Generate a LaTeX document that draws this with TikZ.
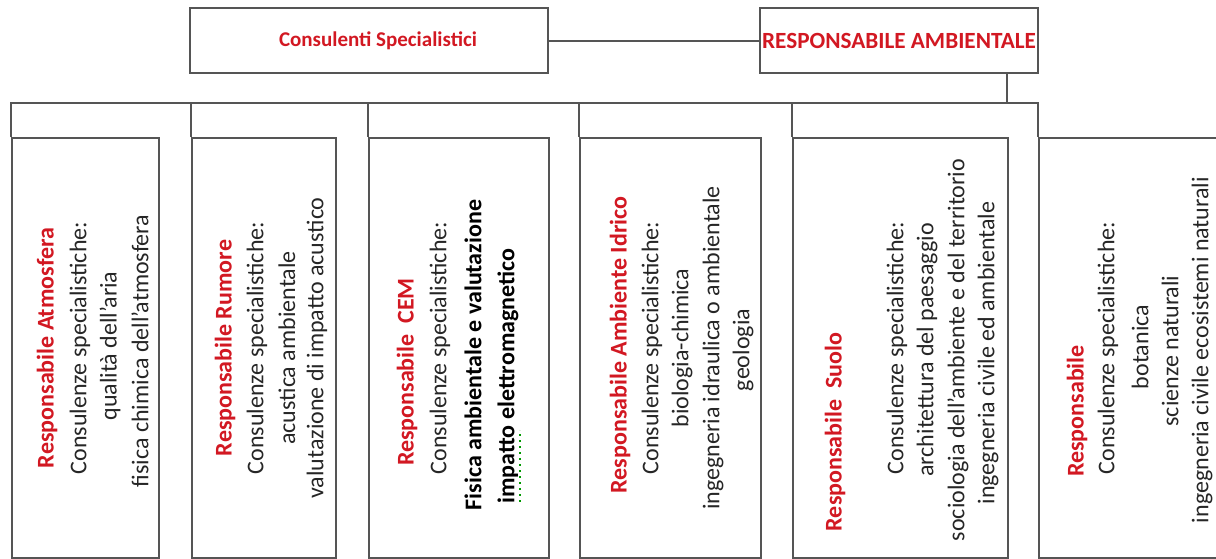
\documentclass[tikz,border=0pt]{standalone}
\usepackage{fontspec}
\setmainfont{Carlito}
\usetikzlibrary{calc,positioning}
\definecolor{chartred}{RGB}{210,24,34}
\definecolor{chartline}{RGB}{85,85,85}
\tikzset{
  link/.style = {draw=chartline, line width=1pt},
  topbox/.style = {link, rectangle, inner sep=0pt, minimum height=32.5pt,
    font=\fontsize{10.5}{12}\selectfont\bfseries, text=chartred},
  rolebox/.style = {link, rectangle, inner sep=0pt, anchor=north west},
  vtext/.style = {rotate=90, inner sep=0pt, font=\fontsize{12}{14}\selectfont, text=black!85},
  vbold/.style = {vtext, font=\fontsize{12}{14}\selectfont\bfseries, text=black},
  vtitle/.style = {vtext, font=\fontsize{12}{14}\selectfont\bfseries, text=chartred}
}

\begin{document}
\begin{tikzpicture}[x=0.5pt, y=-0.5pt]
  \useasboundingbox (0,0) rectangle (1216,558);
  \clip (0,0) rectangle (1216,558);
  % top level
  \node[topbox, minimum width=179pt] (cons) at (369,40.5) {\hspace*{9pt}Consulenti Specialistici};
  \node[topbox, minimum width=139pt, font=\fontsize{11.6}{13}\selectfont\bfseries] (resp) at (899,40.5) {RESPONSABILE AMBIENTALE};
  \draw[link] (cons) -- (resp);
  \coordinate (drop) at (1007,103);
  \draw[link] (resp.south -| drop) -- (drop);
  % role boxes
  \foreach \nm/\xl/\xr in {b1/11/158, b2/191/335, b3/368/548, b4/579/760, b5/792/1007, b6/1038/1260} {
    \pgfmathsetmacro{\bw}{(\xr-\xl)/2}
    \node[rolebox, minimum width=\bw pt, minimum height=210pt] (\nm) at (\xl,137) {};
  }
  % bus and drops
  \draw[link] (b1.north west) -- (b1.north west |- drop) -- (b6.north west |- drop) -- (b6.north west);
  \foreach \nm in {b2,b3,b4,b5}
    \draw[link] (\nm.north west |- drop) -- (\nm.north west);
  % texts
  \node[vtitle] (t1a) at (47,348) {Responsabile Atmosfera};
  \node[vtext] (t1b) at (80,348) {Consulenze specialistiche:};
  \node[vtext] (t1c) at (110,346) {qualità dell'aria};
  \node[vtext] (t1d) at (140,351) {fisica chimica dell'atmosfera};
  \node[vtitle] (t2a) at (225,348) {Responsabile Rumore};
  \node[vtext] (t2b) at (257,348) {Consulenze specialistiche:};
  \node[vtext] (t2c) at (287,348) {acustica ambientale};
  \node[vtext] (t2d) at (317,348) {valutazione di impatto acustico};
  \node[vtitle] (t3a) at (407,372) {Responsabile\ \ CEM};
  \node[vtext] (t3b) at (440,348) {Consulenze specialistiche:};
  \node[vbold] (t3c) at (473,355) {Fisica ambientale e valutazione};
  \node[vbold] (t3d) at (508,376) {impatto elettromagnetico};
  \draw[green!60!black, dotted, line width=1pt] ($(t3d.south west)+(1,-2)$) -- ++(0,-72);
  \node[vtitle] (t4a) at (620,345) {Responsabile Ambiente Idrico};
  \node[vtext] (t4b) at (652,348) {Consulenze specialistiche:};
  \node[vtext] (t4c) at (682,348) {biologia-chimica};
  \node[vtext] (t4d) at (713,348) {ingegneria idraulica o ambientale};
  \node[vtext] (t4e) at (743,350) {geologia};
  \node[vtitle] (t5a) at (835,432) {Responsabile\ \ Suolo};
  \node[vtext] (t5b) at (897,348) {Consulenze specialistiche:};
  \node[vtext] (t5c) at (927,350) {architettura del paesaggio};
  \node[vtext] (t5d) at (958,350) {sociologia dell'ambiente e del territorio};
  \node[vtext] (t5e) at (988,353) {ingegneria civile ed ambientale};
  \node[vtitle] (t6a) at (1077,411) {Responsabile};
  \node[vtext] (t6b) at (1108,348) {Consulenze specialistiche:};
  \node[vtext] (t6c) at (1140,347) {botanica};
  \node[vtext] (t6d) at (1170,351) {scienze naturali};
  \node[vtext] (t6e) at (1202,350) {ingegneria civile ecosistemi naturali};
\end{tikzpicture}
\end{document}
